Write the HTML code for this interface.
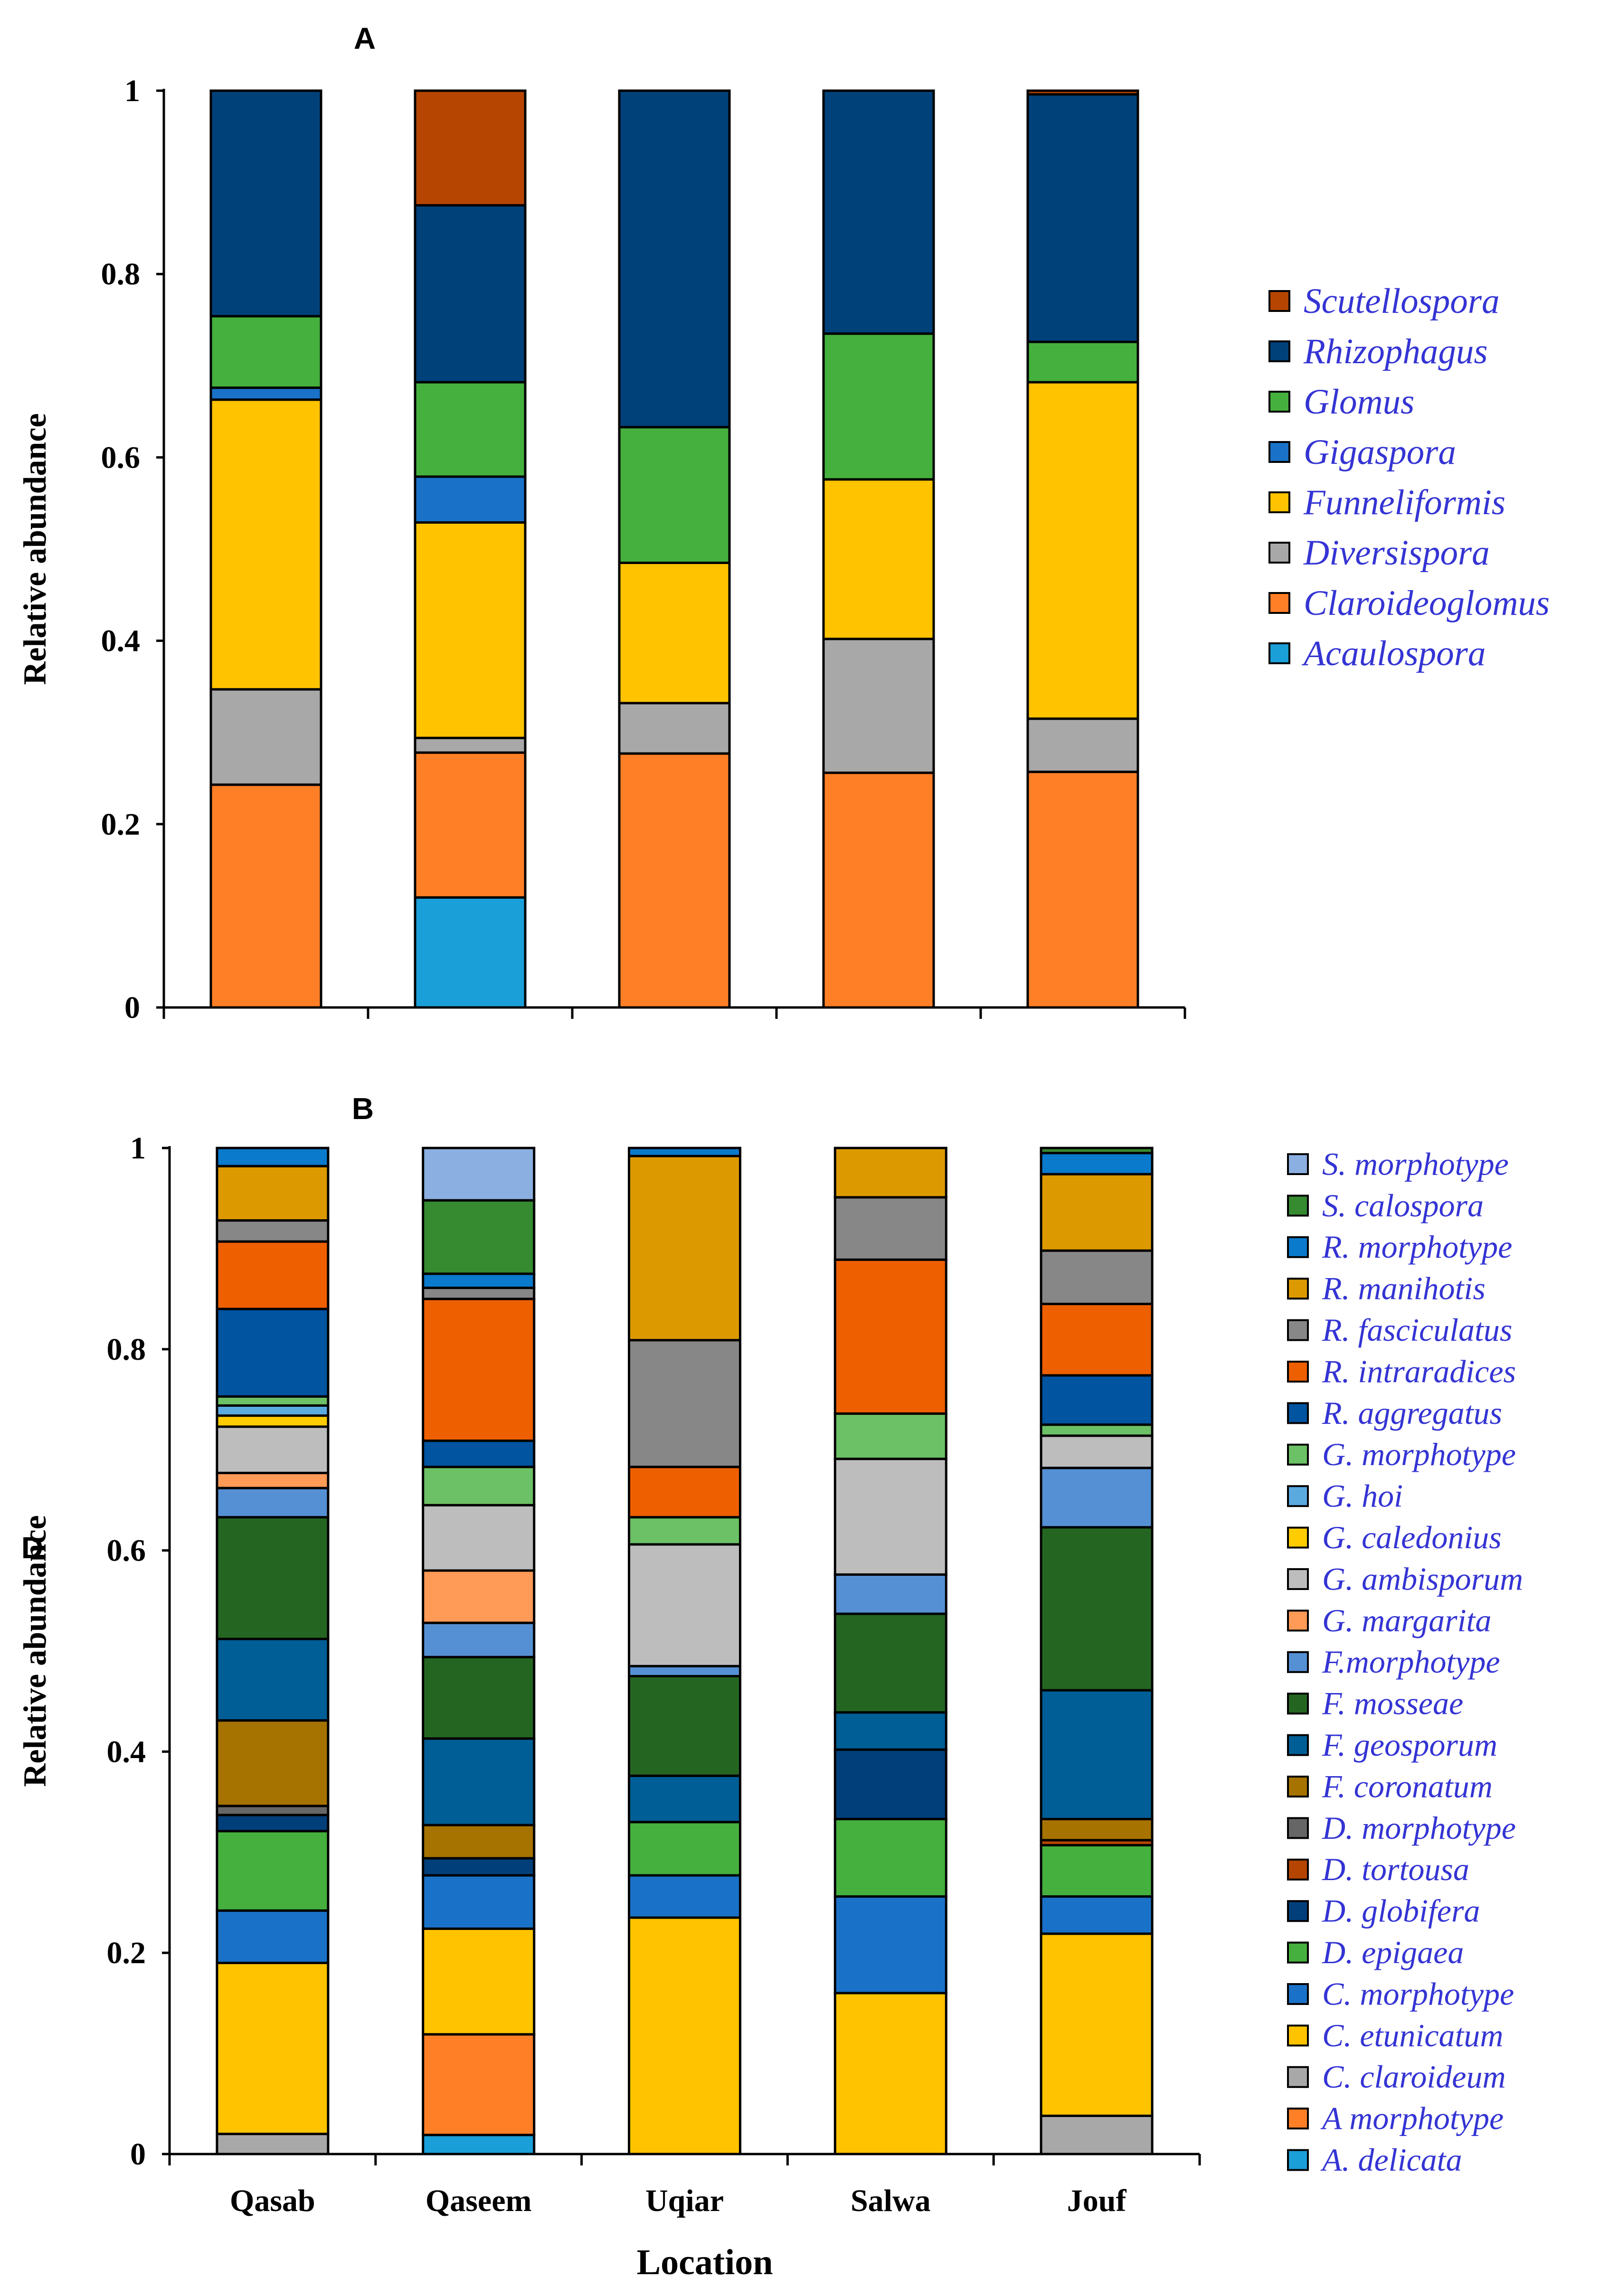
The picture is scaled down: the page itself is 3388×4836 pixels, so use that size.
<!DOCTYPE html>
<html><head><meta charset="utf-8">
<style>
html,body{margin:0;padding:0;background:#fff;}
svg{display:block;}
text{font-family:"Liberation Serif",serif;}
text.sans{font-family:"Liberation Sans",sans-serif;}
</style></head>
<body>
<svg id="chart" width="3388" height="4836" viewBox="0 0 3388 4836" xmlns="http://www.w3.org/2000/svg"></svg>
<script>
// ---------- data ----------
const locations = ["Qasab","Qaseem","Uqiar","Salwa","Jouf"];
const yTicks = [0,0.2,0.4,0.6,0.8,1];
const yTickLabels = ["0","0.2","0.4","0.6","0.8","1"];

// Chart A genera (bottom to top)
const generaA = ["Acaulospora","Claroideoglomus","Diversispora","Funneliformis","Gigaspora","Glomus","Rhizophagus","Scutellospora"];
const colorsA = ["#1A9FD9","#FF7F27","#A8A8A8","#FFC300","#1A72C8","#45B03D","#00417A","#B54500"];
const acaulospora   = [0,0.12,0,0,0];
const claroideoglomus = [0.243,0.158,0.277,0.256,0.257];
const diversispora  = [0.104,0.016,0.055,0.146,0.058];
const funneliformis = [0.316,0.235,0.153,0.174,0.367];
const gigaspora     = [0.013,0.05,0,0,0];
const glomus        = [0.078,0.103,0.148,0.159,0.044];
const rhizophagus   = [0.246,0.193,0.367,0.265,0.27];
const scutellospora = [0,0.125,0,0,0.004];
const seriesA = [acaulospora,claroideoglomus,diversispora,funneliformis,gigaspora,glomus,rhizophagus,scutellospora];

// Chart B species (bottom to top)
const speciesB = ["A. delicata","A morphotype","C. claroideum","C. etunicatum","C. morphotype","D. epigaea","D. globifera","D. tortousa","D. morphotype","F. coronatum","F. geosporum","F. mosseae","F.morphotype","G. margarita","G. ambisporum","G. caledonius","G. hoi","G. morphotype","R. aggregatus","R. intraradices","R. fasciculatus","R. manihotis","R. morphotype","S. calospora","S. morphotype"];
const colorsB = ["#1A9FD9","#FF7F27","#A8A8A8","#FFC300","#1A72C8","#45B03D","#003F7A","#B54500","#666666","#A67300","#005E96","#246621","#5590D4","#FF9A57","#BDBDBD","#FFCC00","#5AAAE0","#6CC065","#0054A0","#EE5F00","#878787","#DD9A00","#0A7ACC","#368A30","#8AAFE0"];
const qasabB  = [0,0,0.02,0.17,0.052,0.079,0.016,0,0.009,0.085,0.081,0.121,0.029,0.015,0.046,0.011,0.01,0.009,0.087,0.067,0.021,0.054,0.018,0,0];
const qaseemB = [0.019,0.1,0,0.105,0.053,0,0.017,0,0,0.033,0.086,0.081,0.034,0.052,0.065,0,0,0.038,0.026,0.141,0.011,0,0.014,0.073,0.052];
const uqiarB  = [0,0,0,0.235,0.042,0.053,0,0,0,0,0.046,0.099,0.01,0,0.121,0,0,0.027,0,0.05,0.126,0.183,0.008,0,0];
const salwaB  = [0,0,0,0.16,0.096,0.077,0.069,0,0,0,0.037,0.098,0.039,0,0.115,0,0,0.045,0,0.153,0.062,0.049,0,0,0];
const joufB   = [0,0,0.038,0.181,0.037,0.051,0,0.005,0,0.021,0.128,0.162,0.059,0,0.032,0,0,0.011,0.049,0.071,0.053,0.076,0.021,0.005,0];
const seriesB = [qasabB,qaseemB,uqiarB,salwaB,joufB];

// ---------- drawing ----------
const svg = document.getElementById('chart');
const NS = "http://www.w3.org/2000/svg";
function mk(tag, attrs, parent){
  const e = document.createElementNS(NS, tag);
  for (const k in attrs) e.setAttribute(k, attrs[k]);
  (parent||svg).appendChild(e);
  return e;
}
function txt(str, attrs, parent){ const t = mk('text', attrs, parent); t.textContent = str; return t; }

function drawPanel(cfg){
  const g = mk('g', {});
  
  
  const L=cfg.left, R=cfg.right, Y0=cfg.y0, Y1=cfg.y1;
  const yS = v => Y0 - v*(Y0-Y1);
  const bandW = (R-L)/locations.length;
  const xC = i => L + bandW*(i+0.5);

  for (let i=0;i<locations.length;i++){
    let acc = 0;
    for (let s=0;s<cfg.nSeries;s++){
      const v = cfg.value(s,i);
      if (v<=0) continue;
      const r = mk('rect', {x:xC(i)-cfg.barW/2, y:yS(acc+v), width:cfg.barW, height:yS(acc)-yS(acc+v), fill:cfg.colors[s], stroke:'#000', 'stroke-width':5}, g);
      
      
      acc += v;
    }
  }
  const ya = mk('line', {x1:L, y1:Y1-4, x2:L, y2:Y0, stroke:'#000', 'stroke-width':5}, g);
  
  
  const xa = mk('line', {x1:L, y1:Y0, x2:R, y2:Y0, stroke:'#000', 'stroke-width':5}, g);
  
  
  for (let k=0;k<yTicks.length;k++){
    const y = yS(yTicks[k]);
    mk('line', {x1:L-16, y1:y, x2:L, y2:y, stroke:'#000', 'stroke-width':5}, g);
    const t = txt(yTickLabels[k], {x:L-50, y:y+22, 'text-anchor':'end', 'font-size':66, 'font-weight':'bold'}, g);
    
    
  }
  for (let i=0;i<=locations.length;i++){
    const x = L + bandW*i;
    mk('line', {x1:x, y1:Y0, x2:x, y2:Y0+24, stroke:'#000', 'stroke-width':5}, g);
  }
  if (cfg.xLabels){
    for (let i=0;i<locations.length;i++){
      const t = txt(locations[i], {x:xC(i), y:Y0+120, 'text-anchor':'middle', 'font-size':66, 'font-weight':'bold'}, g);
      
      
    }
  }
  const yl = txt('Relative abundance', {x:0, y:0, transform:`translate(96,${(Y0+Y1)/2}) rotate(-90)`, 'text-anchor':'middle', 'font-size':68, 'font-weight':'bold'}, g);
  
  

  const lg = mk('g', {}, g);
  
  
  const n = cfg.labels.length;
  for (let s=0;s<n;s++){
    const y = cfg.legTop + (n-1-s)*cfg.legStep;
    const e = mk('g', {}, lg);
    
    
    mk('rect', {x:cfg.legX, y:y-cfg.sw/2, width:cfg.sw, height:cfg.sw, fill:cfg.colors[s], stroke:'#000', 'stroke-width':4}, e);
    txt(cfg.labels[s], {x:cfg.legX+cfg.sw+30, y:y+cfg.legFont*0.33, 'font-size':cfg.legFont, 'font-style':'italic', fill:'#3434D4'}, e);
  }
}

drawPanel({name:'chart-a', left:345, right:2495, y0:2122, y1:191, barW:232,
  nSeries:seriesA.length, value:(s,i)=>seriesA[s][i], colors:colorsA, labels:generaA,
  legX:2673, legTop:634, legStep:106, sw:42, legFont:75, xLabels:false});
drawPanel({name:'chart-b', left:357, right:2526, y0:4537, y1:2418, barW:234,
  nSeries:speciesB.length, value:(s,i)=>seriesB[i][s], colors:colorsB, labels:speciesB,
  legX:2712, legTop:2452, legStep:87.4, sw:42, legFont:68, xLabels:true});

const tA = txt('A', {x:768, y:103, 'text-anchor':'middle', 'font-size':64, 'font-weight':'bold', class:'sans'});


const tB = txt('B', {x:764, y:2357, 'text-anchor':'middle', 'font-size':64, 'font-weight':'bold', class:'sans'});


const tD = txt('D', {x:68, y:3282, 'text-anchor':'middle', 'font-size':64, 'font-weight':'bold', class:'sans'});


const xt = txt('Location', {x:1484, y:4790, 'text-anchor':'middle', 'font-size':76, 'font-weight':'bold'});


</script>
</body></html>
